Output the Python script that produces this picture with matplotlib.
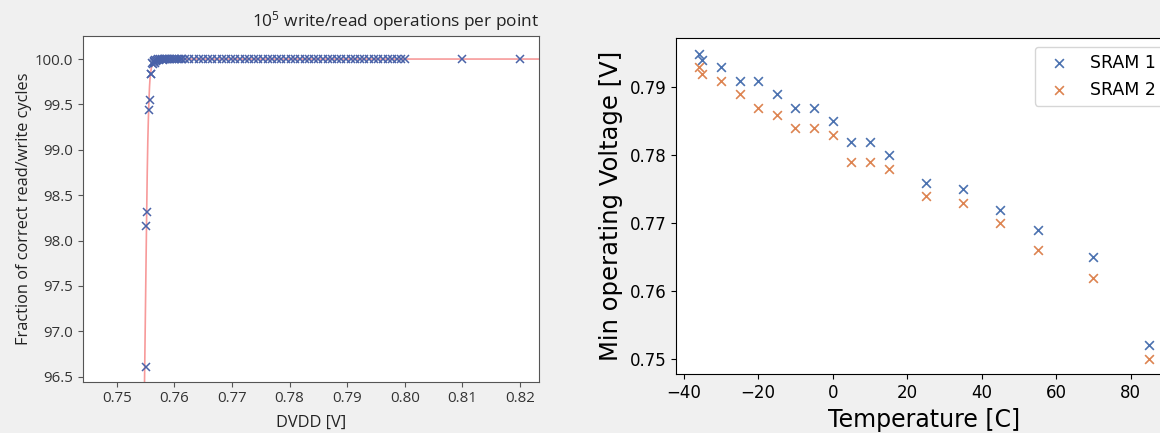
import matplotlib
matplotlib.use("Agg")
import matplotlib.pyplot as plt

# left panel: write/read test vs DVDD
dvdd_edge = [0.7550, 0.75512, 0.7553, 0.75568, 0.7558, 0.7560, 0.7559]
frac_edge = [96.61, 98.16, 98.32, 99.44, 99.55, 99.83, 99.84]

dvdd_dense = [0.7562, 0.7563, 0.7564, 0.7565, 0.7566, 0.7567, 0.7568, 0.7570,
              0.7572, 0.7574, 0.7576, 0.7578, 0.7580, 0.7582, 0.7584, 0.7586,
              0.7588, 0.7590, 0.7593, 0.7596, 0.7599, 0.7602, 0.7605, 0.7608,
              0.7611, 0.7614]
frac_dense = [99.96, 99.95, 99.97, 99.98, 99.96, 99.99, 99.98, 99.99,
              100.0, 99.99, 100.0, 100.0, 99.99, 100.0, 100.0, 100.0,
              100.0, 100.0, 100.0, 100.0, 100.0, 100.0, 100.0, 100.0,
              100.0, 100.0]

dvdd_flat = [0.7618, 0.7626, 0.7634, 0.7642, 0.7650, 0.7658, 0.7666, 0.7674,
             0.7682, 0.7690, 0.7698, 0.7706, 0.7714, 0.7722, 0.7730, 0.7738,
             0.7746, 0.7754, 0.7762, 0.7770, 0.7778, 0.7786, 0.7794, 0.7802,
             0.7810, 0.7818, 0.7826, 0.7834, 0.7842, 0.7850, 0.7858, 0.7866,
             0.7874, 0.7882, 0.7890, 0.7898, 0.7906, 0.7914, 0.7922, 0.7930,
             0.7938, 0.7946, 0.7954, 0.7962, 0.7970, 0.7978, 0.7986, 0.7994,
             0.8000, 0.8100, 0.8200]
frac_flat = [100.0] * len(dvdd_flat)

fit_x = [0.7546, 0.7548, 0.7549, 0.7550, 0.7551, 0.7552, 0.7553, 0.7554,
         0.7555, 0.7556, 0.7557, 0.7558, 0.7560, 0.7562, 0.7565, 0.7570,
         0.7580, 0.7600, 0.8250]
fit_y = [95.5, 96.3, 96.8, 97.3, 97.8, 98.3, 98.75, 99.1,
         99.35, 99.55, 99.7, 99.8, 99.9, 99.94, 99.97, 99.985,
         99.995, 100.0, 100.0]

# right panel: min operating voltage vs temperature
temps = [-36, -35, -30, -25, -20, -15, -10, -5, 0, 5, 10, 15, 25, 35, 45, 55, 70, 85]
sram1 = [0.795, 0.794, 0.793, 0.791, 0.791, 0.789, 0.787, 0.787, 0.785,
         0.782, 0.782, 0.780, 0.776, 0.775, 0.772, 0.769, 0.765, 0.752]
sram2 = [0.793, 0.792, 0.791, 0.789, 0.787, 0.786, 0.784, 0.784, 0.783,
         0.779, 0.779, 0.778, 0.774, 0.773, 0.770, 0.766, 0.762, 0.750]

bg = "#f0f0f0"
fig = plt.figure(figsize=(11.6, 4.33), dpi=100, facecolor=bg)

# ---- left chart ----
ax1 = fig.add_axes([0.0713, 0.1185, 0.3934, 0.799])
font_l = "Open Sans"
ax1.plot(fit_x, fit_y, color="#f79a9a", lw=1.2, zorder=1)
mk = dict(marker="x", ls="none", color="#4a62a8", ms=5.5, mew=1.1, zorder=2)
ax1.plot(dvdd_edge, frac_edge, **mk)
ax1.plot(dvdd_dense, frac_dense, **mk)
ax1.plot(dvdd_flat, frac_flat, **mk)
ax1.set_xlim(0.7441, 0.8233)
ax1.set_ylim(96.445, 100.257)
ax1.set_xticks([0.75, 0.76, 0.77, 0.78, 0.79, 0.80, 0.81, 0.82])
ax1.set_xticklabels(["0.75", "0.76", "0.77", "0.78", "0.79", "0.80", "0.81", "0.82"])
ax1.set_yticks([96.5, 97.0, 97.5, 98.0, 98.5, 99.0, 99.5, 100.0])
ax1.set_yticklabels(["96.5", "97.0", "97.5", "98.0", "98.5", "99.0", "99.5", "100.0"])
for lab in ax1.get_xticklabels() + ax1.get_yticklabels():
    lab.set_fontfamily(font_l)
    lab.set_fontsize(10.8)
ax1.tick_params(colors="#555555", labelcolor="#333333")
for s in ax1.spines.values():
    s.set_color("#555555")
ax1.set_xlabel("DVDD [V]", family=font_l, fontsize=11.8, color="#222222", labelpad=6)
ax1.set_ylabel("Fraction of correct read/write cycles", family=font_l, fontsize=11.8,
               color="#222222", labelpad=2)
ax1.set_title(r"$\mathregular{10^5}$ write/read operations per point", loc="right",
              family=font_l, fontsize=12.4, color="#222222", pad=7)

# ---- right chart ----
ax2 = fig.add_axes([0.5828, 0.1356, 0.4274, 0.776])
ax2.scatter(temps, sram1, marker="x", color="#4c72b0", s=40, linewidths=1.2, label="SRAM 1")
ax2.scatter(temps, sram2, marker="x", color="#dd8452", s=40, linewidths=1.2, label="SRAM 2")
ax2.set_xlim(-42.05, 91.05)
ax2.set_ylim(0.74775, 0.79725)
ax2.set_xticks([-40, -20, 0, 20, 40, 60, 80])
ax2.set_yticks([0.75, 0.76, 0.77, 0.78, 0.79])
ax2.tick_params(labelsize=12)
ax2.set_xlabel("Temperature [C]", fontsize=17, labelpad=4)
ax2.set_ylabel("Min operating Voltage [V]", fontsize=17.5, labelpad=5)
ax2.legend(loc="upper right", fontsize=12.5, borderaxespad=0.5)

fig.savefig("out.png", dpi=100, facecolor=bg)
